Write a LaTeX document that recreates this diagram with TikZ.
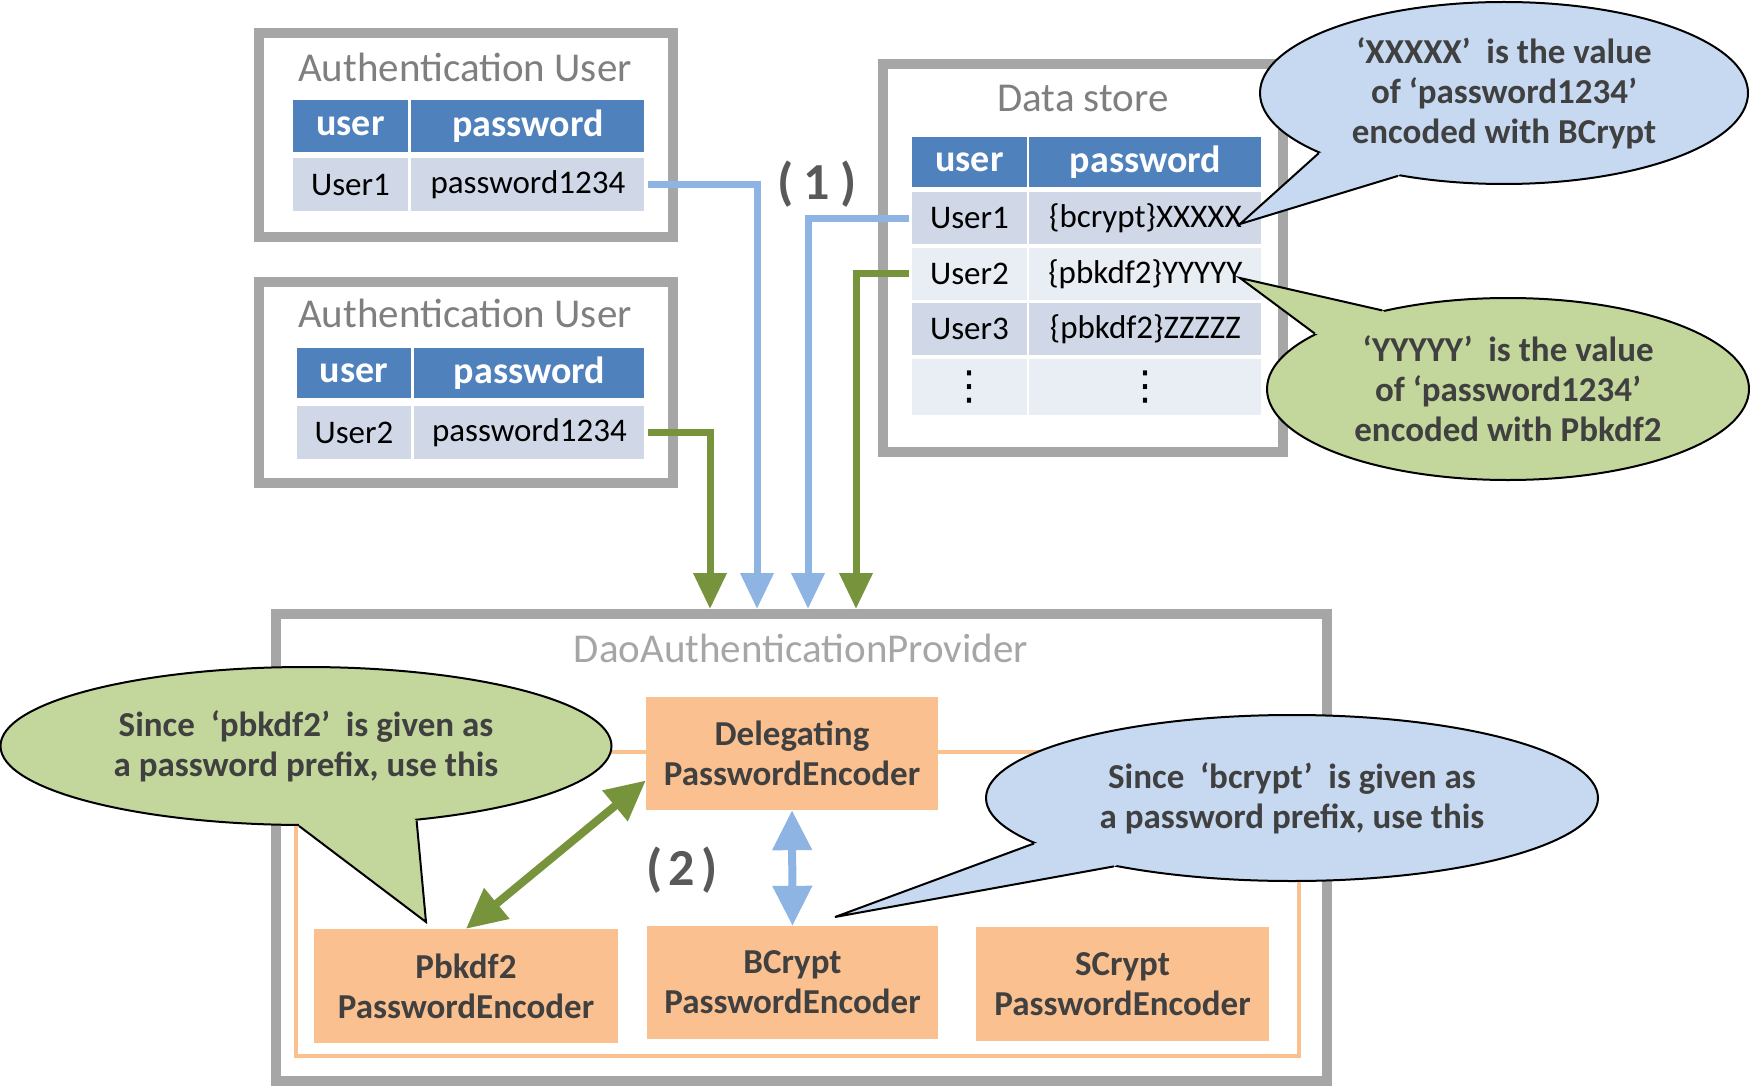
\documentclass[tikz,border=0pt]{standalone}
\usepackage{fontspec}
\setmainfont{Carlito}
\newfontfamily\symfont{DejaVu Sans}
\usepackage{tikz}
\usetikzlibrary{positioning, arrows.meta, shapes.geometric, calc}
\definecolor{framegray}{HTML}{A6A6A6}
\definecolor{titlegray}{HTML}{7F7F7F}
\definecolor{hdrblue}{HTML}{4F81BD}
\definecolor{rowdark}{HTML}{D0D8E8}
\definecolor{rowlight}{HTML}{E9EDF4}
\definecolor{lineblue}{HTML}{8DB4E2}
\definecolor{linegreen}{HTML}{77933C}
\definecolor{encpeach}{HTML}{FAC090}
\definecolor{textdark}{HTML}{404040}
\definecolor{stepgray}{HTML}{595959}
\definecolor{bubbleblue}{HTML}{C6D9F1}
\definecolor{bubblegreen}{HTML}{C3D69B}

\begin{document}
\begin{tikzpicture}[x=1pt, y=-1pt,
  frame/.style={draw=framegray, line width=10pt, inner sep=0pt},
  boxtitle/.style={text=titlegray, font=\fontsize{41}{48}\selectfont, inner sep=0pt},
  hdr/.style={fill=hdrblue, text=white, font=\fontsize{38}{44}\selectfont\bfseries, inner sep=0pt},
  rowdk/.style={fill=rowdark, font=\fontsize{33}{38}\selectfont, inner sep=0pt},
  rowlt/.style={fill=rowlight, font=\fontsize{33}{38}\selectfont, inner sep=0pt},
  encoder/.style={fill=encpeach, text=textdark, font=\fontsize{35}{40}\selectfont\bfseries,
                  align=center, inner sep=0pt},
  stepno/.style={text=stepgray, font=\fontsize{52}{56}\selectfont\bfseries, inner sep=0pt},
  blueline/.style={draw=lineblue, line width=7pt},
  greenline/.style={draw=linegreen, line width=7pt},
  bigtip/.tip={Triangle[length=36pt, width=32pt]},
  midtip/.tip={Triangle[length=40pt, width=38pt]},
  bubble/.style={ellipse, draw=black, line width=2pt, inner sep=0pt, text=textdark,
                 font=\fontsize{35}{40}\selectfont\bfseries, align=center},
  bubbleline/.style={draw=black, line width=2pt, line join=miter}]
  \useasboundingbox (0,0) rectangle (1750,1086);

  % authentication users
  \node[frame, minimum width=414.5pt, minimum height=204pt] (auth1) at (465.75,135) {};
  \node[boxtitle] (auth1t) at (465,67) {Authentication User};
  \node[hdr, minimum width=115pt, minimum height=52pt] (a1hu) at (350.5,126) {user};
  \node[hdr, minimum width=233pt, minimum height=52pt, right=3pt of a1hu] (a1hp) {password};
  \node[rowdk, minimum width=115pt, minimum height=53pt, below=6pt of a1hu] (a1u) {User1};
  \node[rowdk, minimum width=233pt, minimum height=53pt, below=6pt of a1hp] (a1p) {password1234};

  \node[frame, minimum width=414.5pt, minimum height=201pt] (auth2) at (465.75,382.5) {};
  \node[boxtitle] (auth2t) at (465,313) {Authentication User};
  \node[hdr, minimum width=114pt, minimum height=50pt] (a2hu) at (354,373) {user};
  \node[hdr, minimum width=230pt, minimum height=50pt, right=3pt of a2hu] (a2hp) {password};
  \node[rowdk, minimum width=114pt, minimum height=53pt, below=8pt of a2hu] (a2u) {User2};
  \node[rowdk, minimum width=230pt, minimum height=53pt, below=8pt of a2hp] (a2p) {password1234};

  % data store
  \node[frame, minimum width=400pt, minimum height=388pt] (store) at (1083,258) {};
  \node[boxtitle] (storet) at (1083,98) {Data store};
  \node[hdr, minimum width=115pt, minimum height=50pt] (dhu) at (969.5,162) {user};
  \node[hdr, minimum width=232pt, minimum height=50pt, right=2pt of dhu] (dhp) {password};
  \node[rowdk, minimum width=115pt, minimum height=52pt, below=5pt of dhu] (d1u) {User1};
  \node[rowdk, minimum width=232pt, minimum height=52pt, below=5pt of dhp] (d1p) {\{bcrypt\}XXXXX};
  \node[rowlt, minimum width=115pt, minimum height=52pt, below=3pt of d1u] (d2u) {User2};
  \node[rowlt, minimum width=232pt, minimum height=52pt, below=3pt of d1p] (d2p) {\{pbkdf2\}YYYYY};
  \node[rowdk, minimum width=115pt, minimum height=52pt, below=3pt of d2u] (d3u) {User3};
  \node[rowdk, minimum width=232pt, minimum height=52pt, below=3pt of d2p] (d3p) {\{pbkdf2\}ZZZZZ};
  \node[rowlt, minimum width=115pt, minimum height=56pt, below=3pt of d3u, font=\symfont\fontsize{40}{44}\selectfont] (d4u) {⋮};
  \node[rowlt, minimum width=232pt, minimum height=56pt, below=3pt of d3p, font=\symfont\fontsize{40}{44}\selectfont] (d4p) {⋮};

  % provider
  \node[frame, minimum width=1051pt, minimum height=467pt] (dao) at (801.5,847.5) {};
  \node[boxtitle, text=framegray] (daot) at (801,648) {DaoAuthenticationProvider};
  \node[draw=encpeach, line width=4pt, minimum width=1003pt, minimum height=304pt,
        inner sep=0pt] (encset) at (797.5,904) {};
  \node[encoder, minimum width=292pt, minimum height=113pt] (dlg) at (792,753.5) {Delegating\\PasswordEncoder};
  \node[encoder, minimum width=304pt, minimum height=114pt] (pbk) at (466,986) {Pbkdf2\\PasswordEncoder};
  \node[encoder, minimum width=291pt, minimum height=113pt] (bcr) at (792.5,982.5) {BCrypt\\PasswordEncoder};
  \node[encoder, minimum width=293pt, minimum height=114pt] (scr) at (1122.5,984) {SCrypt\\PasswordEncoder};

  \node[stepno] (step1) at (817,184) {(\hspace{10pt}1\hspace{10pt})};
  \node[stepno] (step2) at (682,870) {(\hspace{6pt}2\hspace{6pt})};

  % connectors
  \coordinate (g1x) at (710,0);
  \coordinate (b1x) at (757,0);
  \coordinate (b2x) at (808,0);
  \coordinate (g2x) at (856,0);
  \draw[blueline, -bigtip] ([xshift=3pt]a1p.east) -| (b1x |- dao.north);
  \draw[greenline, -bigtip] ([xshift=3pt]a2p.east) -| (g1x |- dao.north);
  \draw[blueline, -bigtip] ([xshift=-3pt]d1u.west) -| (b2x |- dao.north);
  \draw[greenline, -bigtip] ([xshift=-3pt]d2u.west) -| (g2x |- dao.north);
  \draw[greenline, line width=8pt, midtip-midtip] (pbk.north) -- ([yshift=-27pt]dlg.west);
  \draw[blueline, line width=8pt, midtip-midtip] (dlg.south) -- (bcr.north);

  % callouts
  \node[bubble, fill=bubbleblue, minimum width=488pt, minimum height=182pt] (cx) at (1504,93)
    {‘XXXXX’~ is the value\\of ‘password1234’\\encoded with BCrypt};
  \coordinate (cxtip) at (1240,224);
  \fill[bubbleblue] (cx.198) -- (cxtip) -- (cx.218) -- ($(cx.218)!0.08!(cx.center)$)
    -- ($(cx.198)!0.08!(cx.center)$) -- cycle;
  \draw[bubbleline] (cx.198) -- (cxtip) -- (cx.218);

  \node[bubble, fill=bubblegreen, minimum width=482pt, minimum height=182pt] (cy) at (1508,389)
    {‘YYYYY’~ is the value\\of ‘password1234’\\encoded with Pbkdf2};
  \coordinate (cytip) at (1240,278);
  \fill[bubblegreen] (cy.148) -- (cytip) -- (cy.164) -- ($(cy.164)!0.08!(cy.center)$)
    -- ($(cy.148)!0.08!(cy.center)$) -- cycle;
  \draw[bubbleline] (cy.148) -- (cytip) -- (cy.164);

  \node[bubble, fill=bubblegreen, minimum width=611pt, minimum height=158pt] (cp) at (306,746)
    {Since~ ‘pbkdf2’~ is given as\\a password prefix, use this};
  \coordinate (cptip) at (426,922);
  \fill[bubblegreen] (cp.265) -- (cptip) -- (cp.326) -- ($(cp.326)!0.08!(cp.center)$)
    -- ($(cp.265)!0.08!(cp.center)$) -- cycle;
  \draw[bubbleline] (cp.265) -- (cptip) -- (cp.326);

  \node[bubble, fill=bubbleblue, minimum width=612pt, minimum height=166pt] (cb) at (1292,798)
    {Since~ ‘bcrypt’~ is given as\\a password prefix, use this};
  \coordinate (cbtip) at (835,917);
  \fill[bubbleblue] (cb.190) -- (cbtip) -- (cb.201) -- ($(cb.201)!0.08!(cb.center)$)
    -- ($(cb.190)!0.08!(cb.center)$) -- cycle;
  \draw[bubbleline] (cb.190) -- (cbtip) -- (cb.201);
\end{tikzpicture}
\end{document}
